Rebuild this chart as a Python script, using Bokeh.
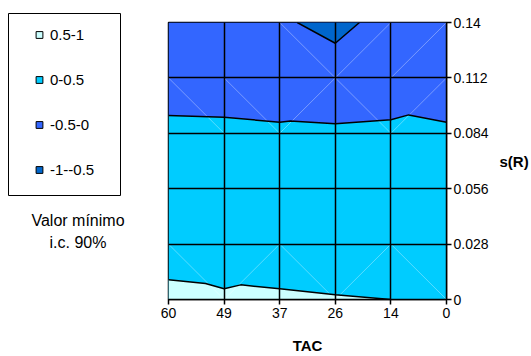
from bokeh.plotting import figure
from bokeh.layouts import row
from bokeh.models import Range1d, FixedTicker, Legend, LegendItem, Label, BoxAnnotation
from bokeh.embed import file_html
from bokeh.resources import INLINE

# ---------------- data ----------------
tac_pos = [0, 1, 2, 3, 4, 5]
tac_labels = ["60", "49", "37", "26", "14", "0"]
sr_ticks = [0, 0.028, 0.056, 0.084, 0.112, 0.14]
sr_labels = ["0", "0.028", "0.056", "0.084", "0.112", "0.14"]
band_labels = ["0.5-1", "0-0.5", "-0.5-0", "-1--0.5"]
band_colors = ["#CCFFFF", "#00CCFF", "#3366FF", "#0066CC"]
note_lines = ["Valor mínimo", "i.c. 90%"]

# contour line 0.5 (border between 0.5-1 and 0-0.5)
c05_x = [0, 0.665, 1, 1.3, 2, 3, 4]
c05_y = [0.0100, 0.0081, 0.0054, 0.0074, 0.0054, 0.0024, 0.0]
# contour line 0 (border between 0-0.5 and -0.5-0)
c0_x = [0, 1, 2, 2.19, 3, 4, 4.32, 5]
c0_y = [0.0930, 0.0921, 0.0896, 0.0902, 0.0888, 0.0908, 0.0933, 0.0896]
# contour line -0.5 (border between -0.5-0 and -1--0.5)
cm05_x = [2.315, 3, 3.435]
cm05_y = [0.14, 0.1295, 0.14]

# surface triangulation diagonals (cell column, cell row, 1 = rising)
diag_col = [0, 1, 2, 3, 4, 0, 1, 2, 3, 4, 2, 3, 4]
diag_row = [0, 0, 0, 0, 0, 3, 3, 3, 3, 3, 4, 4, 4]
diag_up = [0, 1, 0, 1, 0, 0, 0, 1, 0, 1, 0, 1, 1]

FONT = "Liberation Sans"
top = sr_ticks[-1]
LW, H = 150, 356

# ---------------- legend panel (left) ----------------
lf = figure(width=LW, height=H, output_backend="svg", toolbar_location=None,
            x_axis_type=None, y_axis_type=None, x_range=Range1d(0, LW), y_range=Range1d(0, H),
            min_border=0)
lf.frame_align = False
lf.outline_line_color = None
lf.background_fill_color = "white"
lf.border_fill_color = "white"
lf.grid.visible = False

# legend frame box
lf.add_layout(BoxAnnotation(left=8, right=120, bottom=H - 195, top=H - 13,
                            fill_color="white", fill_alpha=1.0,
                            line_color="black", line_width=1, line_alpha=1.0))

items = []
for lab, col in zip(band_labels, band_colors):
    r = lf.scatter(x=[0], y=[0], size=0, marker="square", fill_color=col,
                   line_color="black", line_width=1)
    items.append(LegendItem(label=lab, renderers=[r]))
legend = Legend(items=items, location=(30, H - 26 - 152), padding=0, spacing=28,
                glyph_width=18, glyph_height=17, label_height=17,
                label_standoff=2, label_text_font=FONT, label_text_font_size="15px",
                label_text_color="black", label_text_baseline="middle",
                border_line_color=None, background_fill_alpha=0.0, margin=0)
lf.add_layout(legend)
for txt, yy in zip(note_lines, (H - 220, H - 241.5)):
    lf.add_layout(Label(x=77.5, y=yy, text=txt,
                        text_align="center", text_baseline="middle", text_font=FONT,
                        text_font_size="16px", text_color="black"))

# ---------------- main chart ----------------
p = figure(width=531 - LW, height=H, output_backend="svg", toolbar_location=None,
           x_range=Range1d(tac_pos[0], tac_pos[-1]), y_range=Range1d(sr_ticks[0], top),
           y_axis_location="right", x_axis_location="below",
           min_border_left=18, min_border_right=85, min_border_top=22, min_border_bottom=57)
p.frame_align = False
p.background_fill_color = "white"
p.border_fill_color = "white"
p.outline_line_color = "black"
p.outline_line_width = 1.5

# bands
p.varea(x=c0_x, y1=c0_y, y2=[top] * len(c0_x), fill_color=band_colors[2])
p.varea(x=c0_x, y1=[0] * len(c0_x), y2=c0_y, fill_color=band_colors[1])
p.varea(x=c05_x, y1=[0] * len(c05_x), y2=c05_y, fill_color=band_colors[0])
p.varea(x=cm05_x, y1=cm05_y, y2=[top] * len(cm05_x), fill_color=band_colors[3])

# faint triangulation diagonals
dx0 = [c for c in diag_col]
dx1 = [c + 1 for c in diag_col]
dy0 = [sr_ticks[r] if u else sr_ticks[r + 1] for r, u in zip(diag_row, diag_up)]
dy1 = [sr_ticks[r + 1] if u else sr_ticks[r] for r, u in zip(diag_row, diag_up)]
p.segment(x0=dx0, y0=dy0, x1=dx1, y1=dy1, line_color="white", line_alpha=0.35, line_width=1)

# contour lines
for xs, ys in ((c05_x, c05_y), (c0_x, c0_y), (cm05_x, cm05_y)):
    p.line(xs, ys, line_color="black", line_width=1.5)

# grids
p.xgrid.ticker = FixedTicker(ticks=tac_pos)
p.ygrid.ticker = FixedTicker(ticks=sr_ticks)
for g in (p.xgrid[0], p.ygrid[0]):
    g.grid_line_color = "black"
    g.grid_line_width = 1.5
    g.level = "guide"

# axes
xa = p.xaxis[0]
xa.ticker = FixedTicker(ticks=tac_pos)
xa.major_label_overrides = dict(zip(tac_pos, tac_labels))
ya = p.yaxis[0]
ya.ticker = FixedTicker(ticks=sr_ticks)
ya.major_label_overrides = dict(zip(sr_ticks, sr_labels))
for ax in (xa, ya):
    ax.axis_line_color = "black"
    ax.axis_line_width = 1.5
    ax.major_tick_line_color = "black"
    ax.major_tick_line_width = 1.5
    ax.major_tick_out = 5
    ax.major_tick_in = 0
    ax.minor_tick_line_color = None
    ax.major_label_text_font = FONT
    ax.major_label_text_font_size = "14px"
    ax.major_label_text_color = "black"
    ax.axis_label_text_font = FONT
    ax.axis_label_text_font_size = "15px"
    ax.axis_label_text_font_style = "bold"
    ax.axis_label_text_color = "black"
xa.axis_label = "TAC"
xa.major_label_standoff = 3
xa.axis_label_standoff = 16
ya.axis_label = "s(R)"
ya.axis_label_orientation = "horizontal"
ya.major_label_standoff = 2
ya.axis_label_standoff = 8

layout = row(lf, p)
open("out.html", "w").write(file_html(layout, INLINE))
